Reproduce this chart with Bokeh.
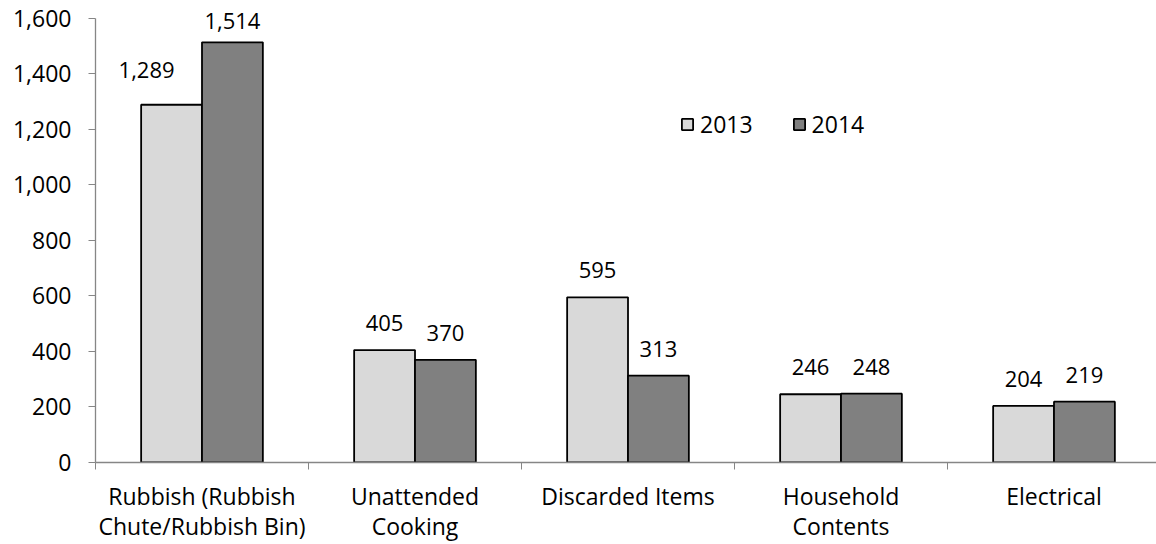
from bokeh.plotting import figure
from bokeh.models import (ColumnDataSource, FixedTicker, Range1d, NumeralTickFormatter,
                          Legend, LegendItem)
from bokeh.transform import dodge
from bokeh.core.properties import value
from bokeh.embed import file_html
from bokeh.resources import INLINE

# ---- data ----
categories = ["Rubbish (Rubbish\nChute/Rubbish Bin)", "Unattended\nCooking",
              "Discarded Items", "Household\nContents", "Electrical"]
series_names = ["2013", "2014"]
values_2013 = [1289, 405, 595, 246, 204]
values_2014 = [1514, 370, 313, 248, 219]
y_ticks = [0, 200, 400, 600, 800, 1000, 1200, 1400, 1600]

# ---- style ----
FONT = "Open Sans"
FS = "22px"
FS_AX = "23px"
colors = ["#D9D9D9", "#808080"]
bar_w = 2 / 7
# label nudges (screen px): [dx, dy] per bar, mimicking the hand-moved labels
nudge_2013 = [(-25, -35), (0, -27), (0, -27), (0, -27), (0, -27)]
nudge_2014 = [(0, -21), (0, -27), (0, -27), (0, -27), (0, -27)]

centers = [i + 0.5 for i in range(len(categories))]
bounds = [float(i) for i in range(len(categories) + 1)]

p = figure(width=1156, height=544, output_backend="svg", toolbar_location=None,
           x_range=Range1d(0, 1061 / 213), y_range=Range1d(0, 1664.7),
           min_border_left=95, min_border_right=0, min_border_top=0, min_border_bottom=81)
p.outline_line_color = None
p.xgrid.visible = False
p.ygrid.visible = False
p.background_fill_color = "white"

renderers = []
for name, vals, col, off, nud in [("2013", values_2013, colors[0], -bar_w / 2, nudge_2013),
                                  ("2014", values_2014, colors[1], bar_w / 2, nudge_2014)]:
    src = ColumnDataSource(dict(x=centers, y=vals, label=[f"{v:,}" for v in vals],
                                dx=[n[0] for n in nud], dy=[n[1] for n in nud]))
    r = p.vbar(x=dodge("x", off), top="y", bottom=0, width=bar_w, source=src,
               fill_color=col, line_color="black", line_width=1.8)
    p.text(x=dodge("x", off), y="y", text="label", source=src,
           x_offset="dx", y_offset="dy",
           text_align="center", text_baseline="middle",
           text_font=value(FONT), text_font_size=FS, text_color="black")
    renderers.append((name, r))

# x axis
xa = p.xaxis[0]
xa.ticker = FixedTicker(ticks=centers, minor_ticks=bounds)
xa.major_label_overrides = {c: lab for c, lab in zip(centers, categories)}
xa.major_tick_out = 0
xa.major_tick_in = 0
xa.minor_tick_out = 7
xa.minor_tick_in = 0
xa.minor_tick_line_color = "#868686"
xa.axis_line_color = "#868686"
xa.axis_line_width = 1.3
xa.major_label_text_font = FONT
xa.major_label_text_font_size = FS_AX
xa.major_label_text_color = "black"
xa.major_label_text_line_height = 0.95
xa.major_label_standoff = 10

# y axis
ya = p.yaxis[0]
ya.ticker = FixedTicker(ticks=y_ticks)
ya.bounds = (y_ticks[0], y_ticks[-1])
ya.formatter = NumeralTickFormatter(format="0,0")
ya.major_tick_out = 7
ya.major_tick_in = 0
ya.minor_tick_line_color = None
ya.major_tick_line_color = "#868686"
ya.axis_line_color = "#868686"
ya.axis_line_width = 1.3
ya.major_label_text_font = FONT
ya.major_label_text_font_size = FS_AX
ya.major_label_text_color = "black"
ya.major_label_standoff = 17

legend = Legend(items=[LegendItem(label=n, renderers=[r]) for n, r in renderers],
                orientation="horizontal", location=(585, 322),
                glyph_width=14, glyph_height=14, label_standoff=6, spacing=39,
                padding=0, margin=0, border_line_color=None, background_fill_alpha=0,
                label_text_font=FONT, label_text_font_size=FS_AX, label_text_color="black")
p.add_layout(legend, "center")

open("out.html", "w").write(file_html(p, INLINE))
